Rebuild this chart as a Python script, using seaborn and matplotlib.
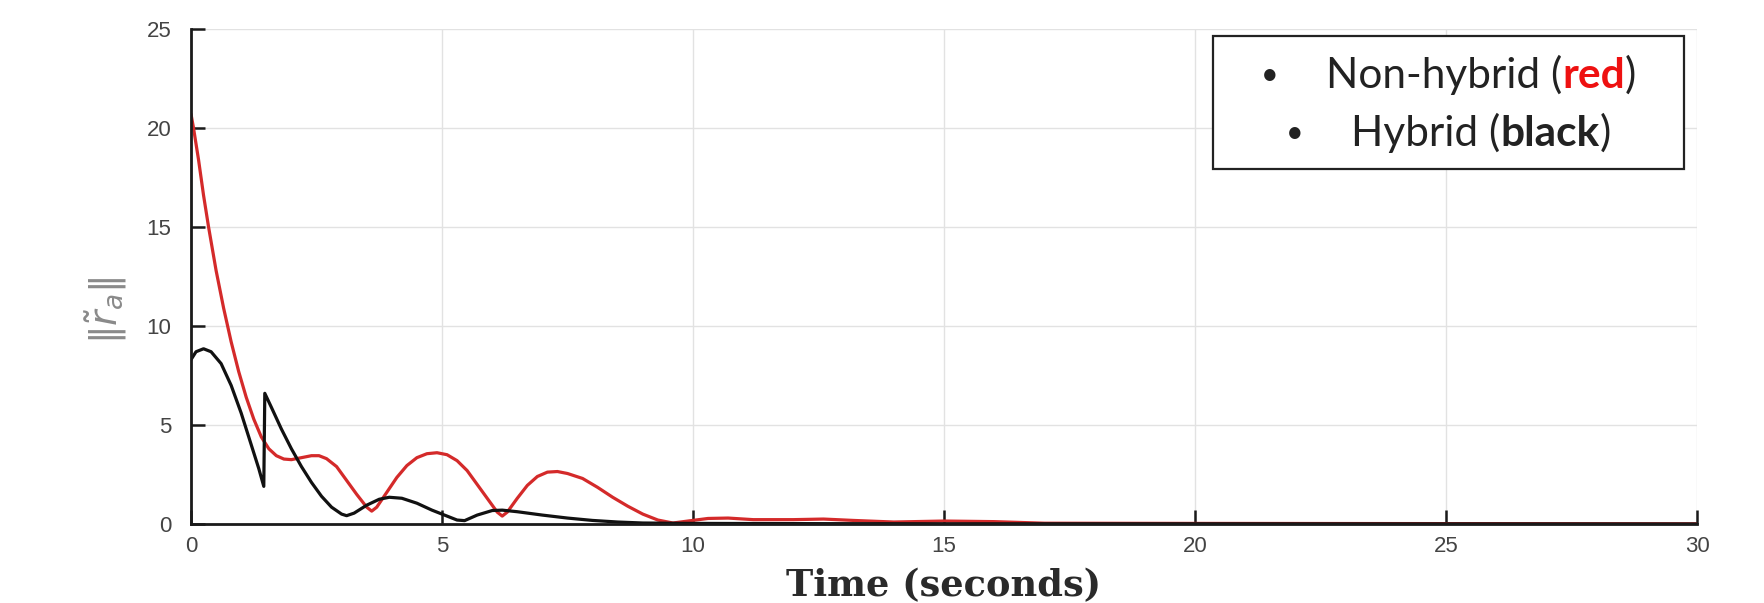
import numpy as np
import pandas as pd
import matplotlib
matplotlib.use("Agg")
import matplotlib.pyplot as plt
import matplotlib.patches as mpatches
from matplotlib.offsetbox import TextArea, HPacker, VPacker, AnchoredOffsetbox
import seaborn as sns

# ---- data ----
red_t = [0.0, 0.05, 0.15, 0.25, 0.35, 0.5, 0.65, 0.8, 0.95, 1.1, 1.25, 1.4, 1.55, 1.7,
         1.85, 2.0, 2.2, 2.4, 2.55, 2.7, 2.9, 3.1, 3.3, 3.5, 3.6, 3.7, 3.9, 4.1, 4.3,
         4.5, 4.7, 4.9, 5.1, 5.3, 5.5, 5.7, 5.9, 6.1, 6.2, 6.3, 6.5, 6.7, 6.9, 7.1,
         7.3, 7.5, 7.8, 8.1, 8.4, 8.7, 9.0, 9.3, 9.6, 9.9, 10.3, 10.7, 11.2, 12.0,
         12.6, 13.2, 14.0, 15.0, 16.0, 17.0, 20.0, 25.0, 30.0]
red_v = [20.7, 20.0, 18.4, 16.6, 15.0, 12.8, 10.9, 9.2, 7.7, 6.4, 5.3, 4.4, 3.8, 3.45,
         3.28, 3.25, 3.35, 3.45, 3.45, 3.3, 2.9, 2.2, 1.5, 0.85, 0.65, 0.85, 1.6, 2.35, 2.95,
         3.35, 3.55, 3.6, 3.5, 3.2, 2.7, 2.0, 1.3, 0.6, 0.4, 0.6, 1.3, 1.95, 2.4, 2.62,
         2.65, 2.55, 2.3, 1.85, 1.35, 0.9, 0.5, 0.2, 0.05, 0.15, 0.28, 0.3, 0.22, 0.22,
         0.25, 0.18, 0.1, 0.15, 0.12, 0.04, 0.03, 0.02, 0.01]

black_t = [0.0, 0.1, 0.25, 0.4, 0.6, 0.8, 1.0, 1.2, 1.35, 1.45, 1.47, 1.6, 1.8, 2.0,
           2.2, 2.4, 2.6, 2.8, 3.0, 3.1, 3.25, 3.5, 3.75, 3.95, 4.2, 4.5, 4.8, 5.1,
           5.3, 5.45, 5.7, 6.0, 6.2, 6.5, 7.0, 7.5, 8.0, 8.5, 9.0, 10.0, 12.0, 15.0,
           20.0, 30.0]
black_v = [8.3, 8.7, 8.85, 8.7, 8.1, 7.0, 5.6, 4.0, 2.8, 1.9, 6.6, 5.9, 4.8, 3.8,
           2.9, 2.1, 1.4, 0.85, 0.5, 0.42, 0.55, 0.95, 1.25, 1.35, 1.3, 1.05, 0.7, 0.4,
           0.2, 0.17, 0.45, 0.68, 0.7, 0.62, 0.45, 0.3, 0.18, 0.1, 0.05, 0.03, 0.02, 0.01,
           0.01, 0.0]

x_ticks = [0, 5, 10, 15, 20, 25, 30]
y_ticks = [0, 5, 10, 15, 20, 25]

red_df = pd.DataFrame({"t": red_t, "v": red_v})
black_df = pd.DataFrame({"t": black_t, "v": black_v})

sns.set_style("white")
W, H = 1764, 603
fig = plt.figure(figsize=(W / 100, H / 100), dpi=100)
ax = fig.add_axes([191 / W, 1 - 524 / H, (1697 - 191) / W, (524 - 29) / H])

sns.lineplot(data=red_df, x="t", y="v", ax=ax, color="#d42a2a", lw=2.3,
             estimator=None, sort=False)
sns.lineplot(data=black_df, x="t", y="v", ax=ax, color="#111111", lw=2.3,
             estimator=None, sort=False)

ax.set_xlim(0, 30)
ax.set_ylim(0, 25)
ax.set_xticks(x_ticks)
ax.set_yticks(y_ticks)
ax.grid(True, color="#e2e2e2", lw=1.0)
ax.set_axisbelow(True)
for s in ["top", "right"]:
    ax.spines[s].set_visible(False)
for s in ["left", "bottom"]:
    ax.spines[s].set_color("#1a1a1a")
    ax.spines[s].set_linewidth(2.0)
ax.tick_params(direction="in", length=10, width=1.8, color="#1a1a1a",
               labelsize=16, labelcolor="#444444", bottom=True, left=True)
ax.tick_params(axis="y", pad=14)
ax.tick_params(axis="x", pad=9)
for lab in ax.get_xticklabels() + ax.get_yticklabels():
    lab.set_fontfamily("Liberation Sans")

ax.set_xlabel("Time (seconds)", fontfamily="DejaVu Serif", fontweight="bold",
              fontsize=26.5, color="#2a2a2a")
ax.xaxis.set_label_coords(0.5, -0.09)
ax.set_ylabel(r"$\|\tilde{r}_a\|$", fontsize=27, color="#8a8a8a")
ax.yaxis.set_label_coords(-0.041, 0.432)

# legend-like text box
rect = mpatches.Rectangle((1213 / W, 1 - 169 / H), 471 / W, 133 / H,
                          transform=fig.transFigure, facecolor="white",
                          edgecolor="#222222", lw=1.6, zorder=5)
fig.add_artist(rect)

fam = "Lato"
fs = 30.5
base = dict(fontfamily=fam, fontsize=fs, color="#222222")
bullet = dict(fontfamily=fam, fontsize=fs * 0.72, color="#222222")
bold = dict(fontfamily=fam, fontsize=fs, color="#222222", fontweight="bold")
boldred = dict(fontfamily=fam, fontsize=fs, color="#ee1111", fontweight="bold")

row1 = HPacker(children=[TextArea("•", textprops=bullet),
                         HPacker(children=[TextArea("Non-hybrid (", textprops=base),
                                           TextArea("red", textprops=boldred),
                                           TextArea(")", textprops=base)],
                                 sep=0, pad=0)],
               sep=34, pad=0, align="center")
row2 = HPacker(children=[TextArea("•", textprops=bullet),
                         HPacker(children=[TextArea("Hybrid (", textprops=base),
                                           TextArea("black", textprops=bold),
                                           TextArea(")", textprops=base)],
                                 sep=0, pad=0)],
               sep=34, pad=0, align="center")
vp = VPacker(children=[row1, row2], sep=13, pad=0, align="center")
anch = AnchoredOffsetbox(loc="center", child=vp, frameon=False, pad=0, borderpad=0,
                         bbox_to_anchor=((1213 + 1684) / 2 / W, 1 - 104 / H),
                         bbox_transform=fig.transFigure)
anch.set_zorder(6)
fig.add_artist(anch)

fig.savefig("out.png", dpi=100, facecolor="white")
